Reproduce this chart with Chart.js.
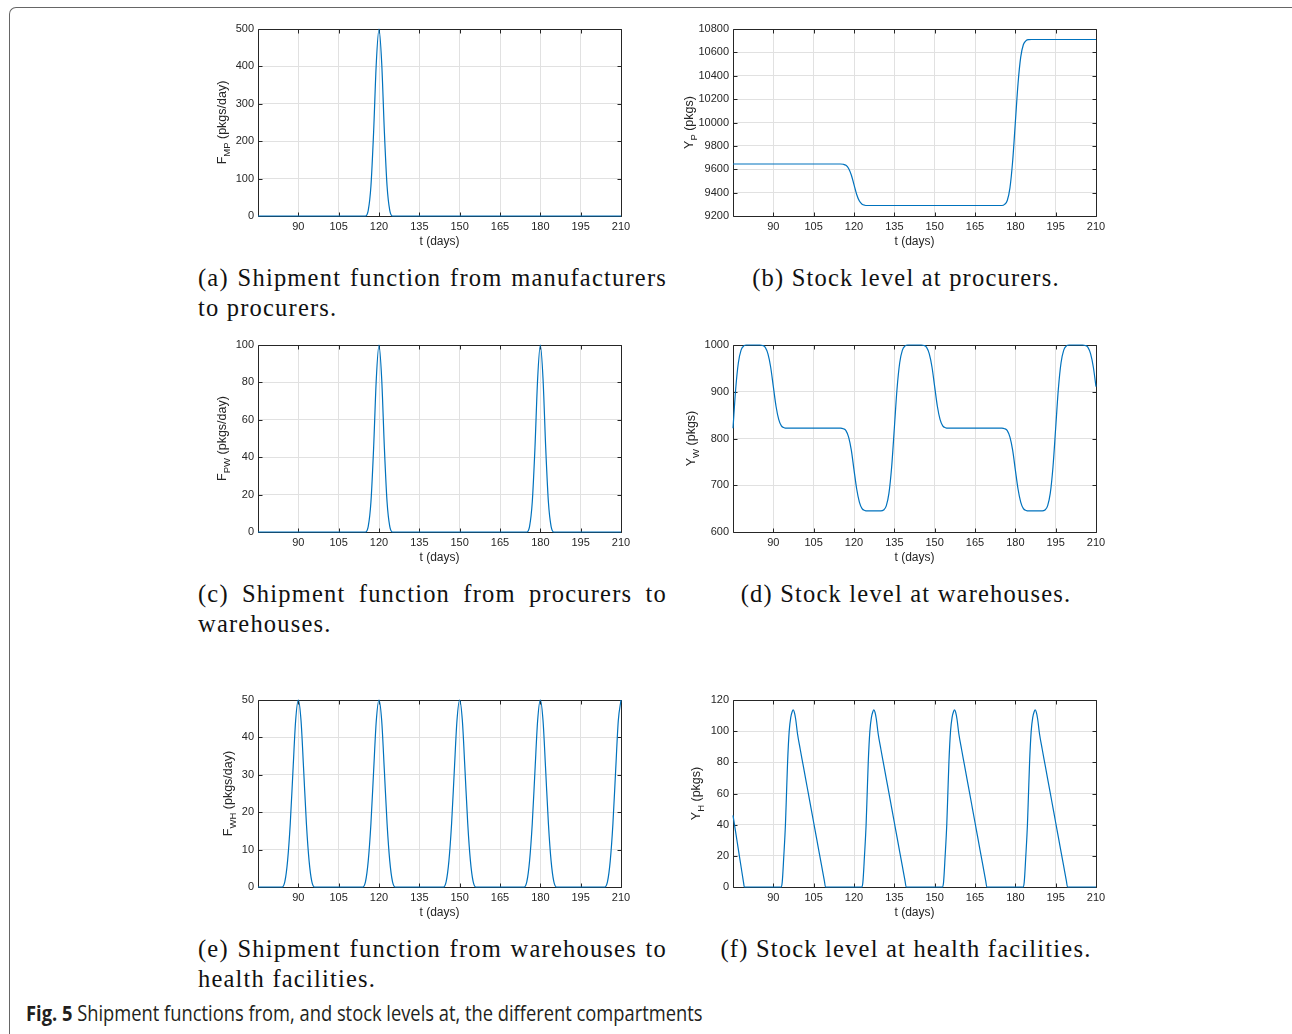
<!DOCTYPE html>
<html>
<head>
<meta charset="utf-8">
<title>Fig. 5</title>
<script src="https://cdn.jsdelivr.net/npm/chart.js@4.4.1/dist/chart.umd.min.js"></script>
<style>
  html, body { margin: 0; padding: 0; background: #fff; }
  body { width: 1292px; height: 1034px; position: relative; overflow: hidden; }
  .frame {
    position: absolute; left: 9px; top: 7px; width: 1320px; height: 1100px;
    border-top: 1px solid #666; border-left: 1px solid #666;
    border-top-left-radius: 7px;
  }
  canvas.plot { position: absolute; }
  .cap {
    position: absolute; margin: 0;
    font-family: "Liberation Serif", "Times New Roman", serif;
    font-size: 24.5px; line-height: 30px; letter-spacing: 1.2px; color: #111;
  }
  .cap.left { left: 198px; width: 469px; text-align: justify; }
  .cap.right { left: 700px; width: 412px; text-align: center; }
  .fig {
    position: absolute; left: 26px; top: 1001px; margin: 0; white-space: nowrap;
    font-family: "Open Sans", "Noto Sans", sans-serif; font-size: 21px; line-height: 24px;
    color: #231f20; transform-origin: 0 0;
  }
  .fig b { font-weight: 700; }
</style>
</head>
<body>
<div class="frame"></div>

<canvas class="plot" id="chartA" width="453" height="237" style="left:188px;top:19px"></canvas>
<canvas class="plot" id="chartB" width="453" height="237" style="left:663px;top:19px"></canvas>
<canvas class="plot" id="chartC" width="453" height="237" style="left:188px;top:335px"></canvas>
<canvas class="plot" id="chartD" width="453" height="237" style="left:663px;top:335px"></canvas>
<canvas class="plot" id="chartE" width="453" height="237" style="left:188px;top:690px"></canvas>
<canvas class="plot" id="chartF" width="453" height="237" style="left:663px;top:690px"></canvas>

<p class="cap left" style="top:263px">(a) Shipment function from manufacturers to procurers.</p>
<p class="cap right" style="top:263px">(b) Stock level at procurers.</p>
<p class="cap left" style="top:579px">(c) Shipment function from procurers to warehouses.</p>
<p class="cap right" style="top:579px">(d) Stock level at warehouses.</p>
<p class="cap left" style="top:934px">(e) Shipment function from warehouses to health facilities.</p>
<p class="cap right" style="top:934px">(f) Stock level at health facilities.</p>

<p class="fig" id="figCap"><b>Fig. 5</b> Shipment functions from, and stock levels at, the different compartments</p>

<script>
// shared x axis (days)
const xTicks = [90, 105, 120, 135, 150, 165, 180, 195, 210];

// (a) shipment manufacturers -> procurers
const tMP = [75, 114, 115, 116, 117, 118, 119, 120, 121, 122, 123, 124, 125, 126, 210];
const fMP = [0, 0, 0, 15, 80, 225, 410, 500, 410, 225, 80, 15, 0, 0, 0];
const yTicksMP = [0, 100, 200, 300, 400, 500];

// (b) stock at procurers
const tP = [75, 115, 116, 117, 118, 119, 120, 121, 122, 123, 124, 125, 126,
            175, 176, 177, 178, 179, 180, 181, 182, 183, 184, 185, 186, 210];
const yP = [9645, 9645, 9643, 9634, 9607, 9551, 9468, 9384, 9328, 9301, 9292, 9290, 9290,
            9290, 9299, 9333, 9441, 9668, 10000, 10332, 10559, 10667, 10701, 10709, 10710, 10710];
const yTicksP = [9200, 9400, 9600, 9800, 10000, 10200, 10400, 10600, 10800];

// (c) shipment procurers -> warehouses
const tPW = [75, 114, 115, 116, 117, 118, 119, 120, 121, 122, 123, 124, 125, 126,
             174, 175, 176, 177, 178, 179, 180, 181, 182, 183, 184, 185, 186, 210];
const fPW = [0, 0, 0, 3, 16, 45, 82, 100, 82, 45, 16, 3, 0, 0,
             0, 0, 3, 16, 45, 82, 100, 82, 45, 16, 3, 0, 0, 0];
const yTicksPW = [0, 20, 40, 60, 80, 100];

// (d) stock at warehouses
const tW = [75, 76, 77, 78, 79, 80,
            85, 86, 87, 88, 89, 90, 91, 92, 93, 94, 95,
            115, 116, 117, 118, 119, 120, 121, 122, 123, 124, 125,
            130, 131, 132, 133, 134, 135, 136, 137, 138, 139, 140,
            145, 146, 147, 148, 149, 150, 151, 152, 153, 154, 155,
            175, 176, 177, 178, 179, 180, 181, 182, 183, 184, 185,
            190, 191, 192, 193, 194, 195, 196, 197, 198, 199, 200,
            205, 206, 207, 208, 209, 210];
const yW = [822, 906, 962, 989, 998, 1000,
            1000, 999, 995, 981, 953, 911, 869, 841, 827, 823, 822,
            822, 821, 817, 803, 775, 733, 692, 664, 650, 646, 645,
            645, 647, 656, 683, 739, 822, 906, 962, 989, 998, 1000,
            1000, 999, 995, 981, 953, 911, 869, 841, 827, 823, 822,
            822, 821, 817, 803, 775, 733, 692, 664, 650, 646, 645,
            645, 647, 656, 683, 739, 822, 906, 962, 989, 998, 1000,
            1000, 999, 995, 981, 953, 911];
const yTicksW = [600, 700, 800, 900, 1000];

// (e) shipment warehouses -> health facilities
const tWH = [75,
             84, 85, 86, 87, 88, 89, 90, 91, 92, 93, 94, 95, 96,
             114, 115, 116, 117, 118, 119, 120, 121, 122, 123, 124, 125, 126,
             144, 145, 146, 147, 148, 149, 150, 151, 152, 153, 154, 155, 156,
             174, 175, 176, 177, 178, 179, 180, 181, 182, 183, 184, 185, 186,
             204, 205, 206, 207, 208, 209, 210];
const fWH = [0,
             0, 1.5, 7, 17, 31, 44.5, 50, 44.5, 31, 17, 7, 1.5, 0,
             0, 1.5, 7, 17, 31, 44.5, 50, 44.5, 31, 17, 7, 1.5, 0,
             0, 1.5, 7, 17, 31, 44.5, 50, 44.5, 31, 17, 7, 1.5, 0,
             0, 1.5, 7, 17, 31, 44.5, 50, 44.5, 31, 17, 7, 1.5, 0,
             0, 1.5, 7, 17, 31, 44.5, 50];
const yTicksWH = [0, 10, 20, 30, 40, 50];

// (f) stock at health facilities
const tH = [75, 76, 77, 78, 79, 79.2,
            92.8, 93.3, 93.9, 94.5, 94.9, 95.3, 95.9, 96.5, 97, 97.4, 97.8, 98.3,
            99, 100, 101, 102, 103, 104, 105, 106, 107, 108, 109, 109.4,
            122.8, 123.3, 123.9, 124.5, 124.9, 125.3, 125.9, 126.5, 127, 127.4, 127.8, 128.3,
            129, 130, 131, 132, 133, 134, 135, 136, 137, 138, 139, 139.4,
            152.8, 153.3, 153.9, 154.5, 154.9, 155.3, 155.9, 156.5, 157, 157.4, 157.8, 158.3,
            159, 160, 161, 162, 163, 164, 165, 166, 167, 168, 169, 169.4,
            182.8, 183.3, 183.9, 184.5, 184.9, 185.3, 185.9, 186.5, 187, 187.4, 187.8, 188.3,
            189, 190, 191, 192, 193, 194, 195, 196, 197, 198, 199, 199.4,
            210];
const yH = [46, 35, 24, 13, 2, 0,
            0, 3, 20, 40, 60, 80, 100, 109, 112.5, 113.6, 112.2, 107.8,
            98.2, 88.4, 79, 69.6, 60.2, 50.8, 41.4, 32, 22.6, 13.2, 3.8, 0,
            0, 3, 20, 40, 60, 80, 100, 109, 112.5, 113.6, 112.2, 107.8,
            98.2, 88.4, 79, 69.6, 60.2, 50.8, 41.4, 32, 22.6, 13.2, 3.8, 0,
            0, 3, 20, 40, 60, 80, 100, 109, 112.5, 113.6, 112.2, 107.8,
            98.2, 88.4, 79, 69.6, 60.2, 50.8, 41.4, 32, 22.6, 13.2, 3.8, 0,
            0, 3, 20, 40, 60, 80, 100, 109, 112.5, 113.6, 112.2, 107.8,
            98.2, 88.4, 79, 69.6, 60.2, 50.8, 41.4, 32, 22.6, 13.2, 3.8, 0,
            0];
const yTicksH = [0, 20, 40, 60, 80, 100, 120];

const LINE = "#0072BD";
const GRID = "#e1e1e1";
const AXIS = "#262626";
const SANS = '"Liberation Sans", Arial, Helvetica, sans-serif';

Chart.defaults.font.family = SANS;
Chart.defaults.color = AXIS;

// MATLAB-style box, inward ticks and a y label with a subscript
const matlabAxes = {
  id: "matlabAxes",
  beforeDatasetsDraw(chart, args, opts) {
    const { ctx, chartArea: a, scales: { x, y } } = chart;
    const L = a.left + 0.5, R = a.right + 0.5, T = a.top + 0.5, B = a.bottom + 0.5;
    ctx.save();
    ctx.strokeStyle = AXIS;
    ctx.lineWidth = 1;
    ctx.beginPath();
    ctx.rect(L, T, R - L, B - T);
    x.ticks.forEach((tk) => {
      const px = Math.round(x.getPixelForValue(tk.value)) + 0.5;
      ctx.moveTo(px, B); ctx.lineTo(px, B - 4);
      ctx.moveTo(px, T); ctx.lineTo(px, T + 4);
    });
    y.ticks.forEach((tk) => {
      const py = Math.round(y.getPixelForValue(tk.value)) + 0.5;
      ctx.moveTo(L, py); ctx.lineTo(L + 4, py);
      ctx.moveTo(R, py); ctx.lineTo(R - 4, py);
    });
    ctx.stroke();

    // y label
    const big = "12.5px " + SANS, small = "9.5px " + SANS;
    ctx.font = big;
    const w1 = ctx.measureText(opts.main).width;
    const w3 = ctx.measureText(opts.rest).width;
    ctx.font = small;
    const w2 = ctx.measureText(opts.sub).width;
    ctx.translate(a.left - opts.offset, (a.top + a.bottom) / 2);
    ctx.rotate(-Math.PI / 2);
    ctx.fillStyle = AXIS;
    ctx.textBaseline = "middle";
    ctx.textAlign = "left";
    let p = -(w1 + w2 + w3) / 2;
    ctx.font = big; ctx.fillText(opts.main, p, 0); p += w1;
    ctx.font = small; ctx.fillText(opts.sub, p, 4); p += w2;
    ctx.font = big; ctx.fillText(opts.rest, p, 0);
    ctx.restore();
  },
};

function buildChart(id, t, values, yTicks, yLabel) {
  const data = t.map((tt, i) => ({ x: tt, y: values[i] }));
  return new Chart(document.getElementById(id), {
    type: "line",
    data: {
      datasets: [{
        data,
        borderColor: LINE,
        borderWidth: 1.2,
        pointRadius: 0,
        cubicInterpolationMode: "monotone",
        fill: false,
        clip: 3,
      }],
    },
    options: {
      responsive: false,
      animation: false,
      devicePixelRatio: 1,
      events: [],
      layout: { padding: { left: 0, right: 20, top: 10, bottom: 0 } },
      plugins: {
        legend: { display: false },
        tooltip: { enabled: false },
        matlabAxes: yLabel,
      },
      scales: {
        x: {
          type: "linear",
          min: 75,
          max: 210,
          afterBuildTicks: (s) => { s.ticks = xTicks.map((v) => ({ value: v })); },
          afterFit: (s) => { s.height = 40; s.paddingLeft = 0; s.paddingRight = 0; },
          grid: { color: GRID, lineWidth: 1, drawTicks: false },
          border: { display: false },
          ticks: { padding: 4, color: AXIS, font: { size: 11 }, maxRotation: 0, autoSkip: false,
                   callback: (v) => String(v) },
          title: { display: true, text: "t (days)", color: AXIS, font: { size: 12 },
                   padding: { top: 0, bottom: 7 } },
        },
        y: {
          type: "linear",
          min: yTicks[0],
          max: yTicks[yTicks.length - 1],
          afterBuildTicks: (s) => { s.ticks = yTicks.map((v) => ({ value: v })); },
          afterFit: (s) => { s.width = 70; s.paddingTop = 0; s.paddingBottom = 0; },
          grid: { color: GRID, lineWidth: 1, drawTicks: false },
          border: { display: false },
          ticks: { padding: 4, color: AXIS, font: { size: 11 }, autoSkip: false,
                   callback: (v) => String(v) },
        },
      },
    },
    plugins: [matlabAxes],
  });
}

buildChart("chartA", tMP, fMP, yTicksMP, { main: "F", sub: "MP", rest: " (pkgs/day)", offset: 35 });
buildChart("chartB", tP, yP, yTicksP, { main: "Y", sub: "P", rest: " (pkgs)", offset: 43 });
buildChart("chartC", tPW, fPW, yTicksPW, { main: "F", sub: "PW", rest: " (pkgs/day)", offset: 35 });
buildChart("chartD", tW, yW, yTicksW, { main: "Y", sub: "W", rest: " (pkgs)", offset: 41 });
buildChart("chartE", tWH, fWH, yTicksWH, { main: "F", sub: "WH", rest: " (pkgs/day)", offset: 29 });
buildChart("chartF", tH, yH, yTicksH, { main: "Y", sub: "H", rest: " (pkgs)", offset: 36 });

// squeeze the figure caption to the printed width
const fig = document.getElementById("figCap");
fig.style.transform = "scaleX(" + (676 / fig.offsetWidth) + ")";
</script>
</body>
</html>
